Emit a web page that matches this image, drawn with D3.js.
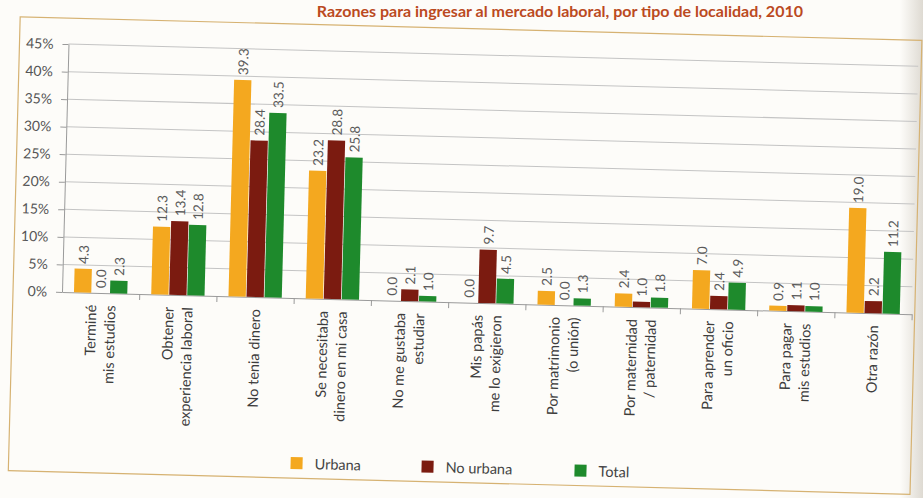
<!DOCTYPE html>
<html>
<head>
<meta charset="utf-8">
<script src="https://cdn.jsdelivr.net/npm/d3@7"></script>
<style>
  html, body { margin: 0; padding: 0; background: #fdfcf9; }
  svg { display: block; }
</style>
</head>
<body>
<svg id="chart" width="923" height="498"></svg>
<script>
// Reasons for entering the labour market, by type of locality, 2010
const categories = [
  ["Terminé", "mis estudios"],
  ["Obtener", "experiencia laboral"],
  ["No tenia dinero"],
  ["Se necesitaba", "dinero en mi casa"],
  ["No me gustaba", "estudiar"],
  ["Mis papás", "me lo exigieron"],
  ["Por matrimonio", "(o unión)"],
  ["Por maternidad", "/ paternidad"],
  ["Para aprender", "un oficio"],
  ["Para pagar", "mis estudios"],
  ["Otra razón"]
];
const seriesNames = ["Urbana", "No urbana", "Total"];
const urbana   = [4.3, 12.3, 39.3, 23.2, 0.0, 0.0, 2.5, 2.4, 7.0, 0.9, 19.0];
const noUrbana = [0.0, 13.4, 28.4, 28.8, 2.1, 9.7, 0.0, 1.0, 2.4, 1.1, 2.2];
const total    = [2.3, 12.8, 33.5, 25.8, 1.0, 4.5, 1.3, 1.8, 4.9, 1.0, 11.2];
const yTicks   = [0, 5, 10, 15, 20, 25, 30, 35, 40, 45];
const titleText = "Razones para ingresar al mercado laboral, por tipo de localidad, 2010";

const colors = ["#f4a81f", "#7b1b10", "#1e8a2c"];
const seriesValues = [urbana, noUrbana, total];

const svg = d3.select("#chart");
const W = 923, H = 498;

// page gutter shading on the right edge
const defs = svg.append("defs");
const grad = defs.append("linearGradient").attr("id", "gutter").attr("x1", 0).attr("x2", 1).attr("y1", 0).attr("y2", 0);
grad.append("stop").attr("offset", "0%").attr("stop-color", "#fdfcf9");
grad.append("stop").attr("offset", "100%").attr("stop-color", "#dedad2");
svg.append("rect").attr("x", 900).attr("y", 0).attr("width", 23).attr("height", H).attr("fill", "url(#gutter)");

// title
svg.append("text")
  .attr("x", 803).attr("y", 17)
  .attr("text-anchor", "end")
  .attr("font-family", "Lato, 'Open Sans', sans-serif")
  .attr("font-weight", 700)
  .attr("font-size", 16)
  .attr("fill", "#bb4a1f")
  .text(titleText);

const x0Left = 62, x0Right = 912, yBase = 292, yTop = 44;

// the printed page sits slightly tilted
const root = svg.append("g").attr("transform", `rotate(1.5, ${x0Left}, ${yBase})`);

// frame
root.append("rect")
  .attr("x", 13).attr("y", 18).attr("width", 902).attr("height", 454)
  .attr("fill", "none").attr("stroke", "#d6b272").attr("stroke-width", 1.2);

const y = d3.scaleLinear().domain([0, 45]).range([yBase, yTop]);
const x0 = d3.scaleBand().domain(d3.range(categories.length))
  .range([x0Left, x0Right]).paddingInner(0.31).paddingOuter(0.155);
const x1 = d3.scaleBand().domain(d3.range(seriesNames.length))
  .range([0, x0.bandwidth()]).paddingInner(0.04);
const xEdges = d3.scaleLinear().domain([0, categories.length]).range([x0Left, x0Right]);

// gridlines
root.append("g").selectAll("line").data(yTicks.filter(d => d > 0)).join("line")
  .attr("x1", x0Left).attr("x2", x0Right)
  .attr("y1", d => y(d)).attr("y2", d => y(d))
  .attr("stroke", "#c4c4c4").attr("stroke-width", 1);

// y axis
const yAxis = root.append("g").attr("transform", `translate(${x0Left},0)`)
  .call(d3.axisLeft(y).tickValues(yTicks).tickFormat(d => d + "%").tickSize(6).tickPadding(9).tickSizeOuter(0));
yAxis.select(".domain").attr("stroke", "#9a9a9a");
yAxis.selectAll(".tick line").attr("stroke", "#9a9a9a");
yAxis.selectAll(".tick text")
  .attr("font-family", "Lato, sans-serif").attr("font-size", 14).attr("fill", "#555");

// x axis baseline with ticks at category boundaries
const xAxis = root.append("g").attr("transform", `translate(0,${yBase})`)
  .call(d3.axisBottom(xEdges).tickValues(d3.range(1, categories.length + 1)).tickFormat("").tickSize(6).tickSizeOuter(0));
xAxis.select(".domain").attr("stroke", "#9a9a9a");
xAxis.selectAll(".tick line").attr("stroke", "#9a9a9a");

// bars
const fmt = d3.format(".1f");
const groups = root.append("g").selectAll("g").data(categories).join("g")
  .attr("transform", (d, i) => `translate(${x0(i)},0)`);

groups.each(function(cat, i) {
  const g = d3.select(this);
  const vals = seriesValues.map((arr, s) => ({ s, v: arr[i] }));
  g.selectAll("rect").data(vals).join("rect")
    .attr("x", d => x1(d.s))
    .attr("y", d => y(d.v))
    .attr("width", x1.bandwidth())
    .attr("height", d => yBase - y(d.v))
    .attr("fill", d => colors[d.s]);
  g.selectAll("text.val").data(vals).join("text")
    .attr("class", "val")
    .attr("transform", d => `translate(${x1(d.s) + x1.bandwidth() / 2},${y(d.v) - 5}) rotate(-90)`)
    .attr("text-anchor", "start")
    .attr("dominant-baseline", "central")
    .attr("font-family", "Lato, sans-serif")
    .attr("font-size", 13.5)
    .attr("fill", "#5a5a5a")
    .text(d => fmt(d.v));
});

// category labels (rotated, up to two lines)
const lineGap = 19;
root.append("g").selectAll("text").data(categories).join("text")
  .attr("transform", (d, i) => `translate(${x0(i) + x0.bandwidth() / 2},${yBase + 12}) rotate(-90)`)
  .attr("text-anchor", "end")
  .attr("font-family", "Lato, sans-serif")
  .attr("font-size", 14.5)
  .attr("fill", "#3d3d3d")
  .each(function(lines) {
    const t = d3.select(this);
    lines.forEach((ln, k) => {
      t.append("tspan")
        .attr("x", 0)
        .attr("y", (k - (lines.length - 1) / 2) * lineGap)
        .attr("dominant-baseline", "central")
        .text(ln);
    });
  });

// legend
const legendX = [295, 426, 579];
const legend = root.append("g").selectAll("g").data(seriesNames).join("g")
  .attr("transform", (d, i) => `translate(${legendX[i]},457)`);
legend.append("rect")
  .attr("x", 0).attr("y", -6).attr("width", 12).attr("height", 12)
  .attr("fill", (d, i) => colors[i]);
legend.append("text")
  .attr("x", 24).attr("y", 0)
  .attr("dominant-baseline", "central")
  .attr("font-family", "Lato, sans-serif")
  .attr("font-size", 14.5)
  .attr("fill", "#444")
  .text(d => d);
</script>
</body>
</html>
